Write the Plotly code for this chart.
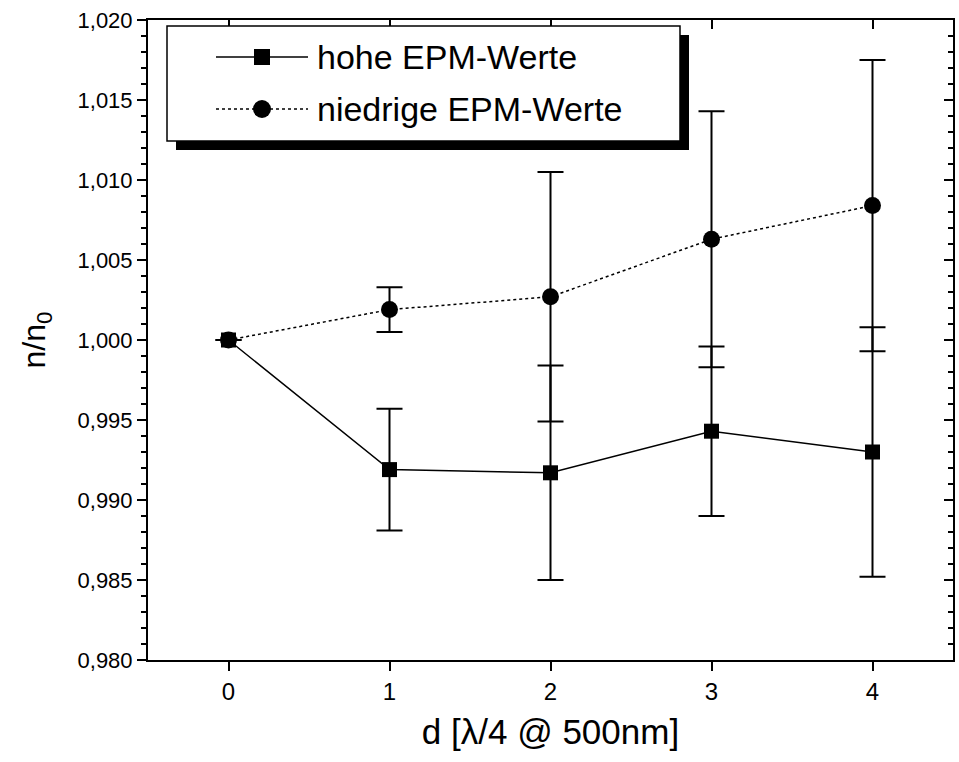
import plotly.graph_objects as go

# ---- data ----
d_values = [0, 1, 2, 3, 4]
hohe = [1.0000, 0.9919, 0.9917, 0.9943, 0.9930]
hohe_err = [0.0, 0.0038, 0.0067, 0.0053, 0.0078]
niedrige = [1.0000, 1.0019, 1.0027, 1.0063, 1.0084]
niedrige_err = [0.0, 0.0014, 0.0078, 0.0080, 0.0091]
series_names = ["hohe EPM-Werte", "niedrige EPM-Werte"]
y_tickvals = [0.980, 0.985, 0.990, 0.995, 1.000, 1.005, 1.010, 1.015, 1.020]

# ---- layout geometry (pixels) ----
W, H = 959, 762
L, R, T, B = 148, 953, 20, 660


def px(x):
    return (x - L) / (R - L)


def py(y):
    return (B - y) / (B - T)


fig = go.Figure()

fig.add_trace(go.Scatter(
    x=d_values, y=niedrige, name=series_names[1], mode="lines+markers",
    line=dict(color="black", width=1.5, dash="dot"),
    marker=dict(symbol="circle", size=17, color="black"),
    error_y=dict(type="data", array=niedrige_err, visible=True,
                 color="black", thickness=2, width=13),
    showlegend=False,
))
fig.add_trace(go.Scatter(
    x=d_values, y=hohe, name=series_names[0], mode="lines+markers",
    line=dict(color="black", width=1.5),
    marker=dict(symbol="square", size=15, color="black"),
    error_y=dict(type="data", array=hohe_err, visible=True,
                 color="black", thickness=2, width=13),
    showlegend=False,
))

# ---- legend box with drop shadow (drawn manually) ----
shapes = []
bx0, by0, bx1, by1 = 167, 26, 680, 141
off = 9
shapes.append(dict(type="rect", xref="paper", yref="paper",
                   x0=px(bx0 + off), x1=px(bx1 + off), y0=py(by0 + off), y1=py(by1 + off),
                   fillcolor="black", line=dict(width=0), layer="above"))
shapes.append(dict(type="rect", xref="paper", yref="paper",
                   x0=px(bx0), x1=px(bx1), y0=py(by0), y1=py(by1),
                   fillcolor="white", line=dict(color="black", width=1.5), layer="above"))
rows = [(57, "solid", "square", series_names[0]), (109, "dot", "circle", series_names[1])]
annotations = []
for yc, dash, sym, label in rows:
    shapes.append(dict(type="line", xref="paper", yref="paper",
                       x0=px(216), x1=px(308), y0=py(yc), y1=py(yc),
                       line=dict(color="black", width=1.5, dash=dash), layer="above"))
    if sym == "square":
        shapes.append(dict(type="rect", xref="paper", yref="paper",
                           x0=px(262 - 8), x1=px(262 + 8), y0=py(yc - 8), y1=py(yc + 8),
                           fillcolor="black", line=dict(width=0), layer="above"))
    else:
        shapes.append(dict(type="circle", xref="paper", yref="paper",
                           x0=px(262 - 9), x1=px(262 + 9), y0=py(yc - 9), y1=py(yc + 9),
                           fillcolor="black", line=dict(width=0), layer="above"))
    annotations.append(dict(xref="paper", yref="paper", x=px(315), y=py(yc),
                            xanchor="left", yanchor="middle", showarrow=False,
                            text=label,
                            font=dict(family="Liberation Sans, Arial", size=34, color="black")))

fig.update_layout(
    width=W, height=H,
    margin=dict(l=L, r=W - R, t=T, b=H - B),
    paper_bgcolor="white", plot_bgcolor="white",
    separators=", ",
    shapes=shapes,
    annotations=annotations,
    xaxis=dict(
        range=[-0.5, 4.5], tickvals=d_values, ticktext=[str(v) for v in d_values],
        ticks="outside", ticklen=9, tickwidth=2, tickcolor="black",
        showline=True, linewidth=2, linecolor="black", showgrid=False, zeroline=False,
        tickfont=dict(family="Liberation Sans, Arial", size=24, color="black"),
        title=dict(text="d [λ/4 @ 500nm]", standoff=16,
                   font=dict(family="Liberation Sans, Arial", size=35, color="black")),
    ),
    yaxis=dict(
        range=[0.980, 1.020], tickvals=y_tickvals, tickformat=".3f",
        ticks="outside", ticklen=9, tickwidth=2, tickcolor="black",
        minor=dict(dtick=0.001, ticks="outside", ticklen=5, tickwidth=1.5, tickcolor="black"),
        showline=True, linewidth=2, linecolor="black", showgrid=False, zeroline=False,
        tickfont=dict(family="Liberation Sans, Arial", size=22, color="black"),
        title=dict(text="n/n<sub>0</sub>", standoff=22,
                   font=dict(family="Liberation Sans, Arial", size=32, color="black")),
    ),
    xaxis2=dict(
        overlaying="x", side="top", range=[-0.5, 4.5], tickvals=d_values,
        showticklabels=False, ticks="inside", ticklen=9, tickwidth=2, tickcolor="black",
        showline=True, linewidth=2, linecolor="black", showgrid=False, zeroline=False,
    ),
    yaxis2=dict(
        overlaying="y", side="right", range=[0.980, 1.020], tickvals=y_tickvals,
        showticklabels=False, ticks="inside", ticklen=9, tickwidth=2, tickcolor="black",
        minor=dict(dtick=0.001, ticks="inside", ticklen=5, tickwidth=1.5, tickcolor="black"),
        showline=True, linewidth=2, linecolor="black", showgrid=False, zeroline=False,
    ),
)
fig.add_trace(go.Scatter(x=[None], y=[None], xaxis="x2", yaxis="y2",
                         showlegend=False, hoverinfo="skip"))

fig.write_html("out.html")
